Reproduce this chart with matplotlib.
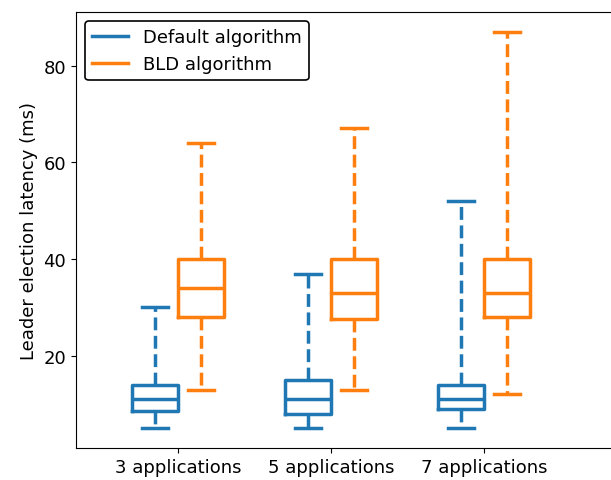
import numpy as np
import matplotlib
matplotlib.use("Agg")
import matplotlib.pyplot as plt
from matplotlib.lines import Line2D

categories = ["3 applications", "5 applications", "7 applications"]

# box stats: low whisker, q1, median, q3, high whisker
default_low = [5, 5, 5]
default_q1 = [8.5, 8, 9]
default_med = [11, 11, 11]
default_q3 = [14, 15, 14]
default_high = [30, 37, 52]

bld_low = [13, 13, 12]
bld_q1 = [28, 27.5, 28]
bld_med = [34, 33, 33]
bld_q3 = [40, 40, 40]
bld_high = [64, 67, 87]


def make_stats(low, q1, med, q3, high):
    out = []
    for i in range(len(low)):
        out.append(dict(whislo=low[i], q1=q1[i], med=med[i], q3=q3[i],
                        whishi=high[i], fliers=[]))
    return out


def draw(ax, stats, pos, color):
    lw = 2.5
    ax.bxp(stats, positions=pos, widths=0.3, capwidths=0.17,
           showfliers=False, manage_ticks=False,
           boxprops=dict(color=color, linewidth=lw),
           medianprops=dict(color=color, linewidth=lw),
           whiskerprops=dict(color=color, linewidth=lw, linestyle='--'),
           capprops=dict(color=color, linewidth=lw))


fig = plt.figure(figsize=(6.11, 4.81), dpi=100)
ax = fig.add_axes([0.1244, 0.0665, 0.894, 0.9065])

x = np.arange(1, len(categories) + 1)
draw(ax, make_stats(default_low, default_q1, default_med, default_q3, default_high), x - 0.15, '#1f77b4')
draw(ax, make_stats(bld_low, bld_q1, bld_med, bld_q3, bld_high), x + 0.15, '#ff7f0e')

ax.set_xticks(x)
ax.set_xticklabels(categories, fontsize=13)
ax.set_xlim(0.333, 3.9)
ax.set_ylim(0.9, 91.1)
ax.set_yticks([20, 40, 60, 80])
ax.tick_params(axis='y', labelsize=13)
ax.set_ylabel("Leader election latency (ms)", fontsize=13)

handles = [Line2D([], [], color='#1f77b4', lw=2.5), Line2D([], [], color='#ff7f0e', lw=2.5)]
leg = ax.legend(handles, ["Default algorithm", "BLD algorithm"], loc='upper left',
                fontsize=13, framealpha=1, edgecolor='black')
leg.get_frame().set_linewidth(1.2)

fig.savefig("out.png", dpi=100)
